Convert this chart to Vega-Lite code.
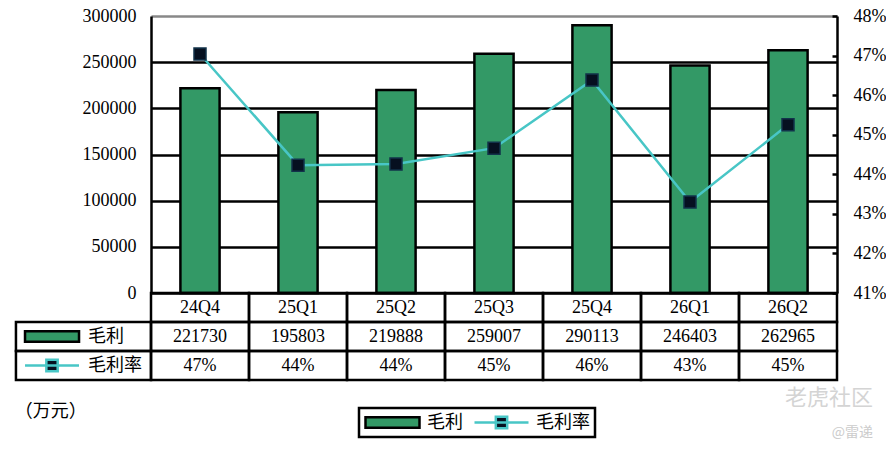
{
  "$schema": "https://vega.github.io/schema/vega-lite/v6.json",
  "description": "毛利 and 毛利率 by quarter, with data table",
  "background": "white",
  "padding": {"left": 14, "top": 7, "right": 0, "bottom": 0},
  "config": {
    "view": {"stroke": null},
    "font": "Liberation Serif",
    "legend": {
      "title": null,
      "orient": "none",
      "legendX": 208,
      "legendY": 392,
      "direction": "horizontal",
      "symbolSize": 2916,
      "symbolStrokeWidth": 2.5,
      "symbolOpacity": 1,
      "clipHeight": 19,
      "labelFont": "Noto Sans CJK SC",
      "labelFontSize": 18,
      "labelColor": "black",
      "labelOffset": 6,
      "columnPadding": 10,
      "padding": 5,
      "strokeColor": "black",
      "strokeWidth": 2.5
    }
  },
  "title": {
    "text": "老虎社区",
    "subtitle": "@雷递",
    "orient": "bottom",
    "anchor": "end",
    "offset": -50,
    "dx": -13,
    "font": "Noto Sans CJK SC",
    "fontSize": 22,
    "fontWeight": "normal",
    "color": "#d4d4d4",
    "subtitleFont": "Noto Sans CJK SC",
    "subtitleFontSize": 14,
    "subtitleColor": "#cccccc",
    "subtitlePadding": 16
  },
  "datasets": {
    "quarters": [
      {"quarter": "24Q4", "gross": 221730, "margin": 0.4704},
      {"quarter": "25Q1", "gross": 195803, "margin": 0.4423},
      {"quarter": "25Q2", "gross": 219888, "margin": 0.4426},
      {"quarter": "25Q3", "gross": 259007, "margin": 0.4466},
      {"quarter": "25Q4", "gross": 290113, "margin": 0.4638},
      {"quarter": "26Q1", "gross": 246403, "margin": 0.4330},
      {"quarter": "26Q2", "gross": 262965, "margin": 0.4525}
    ],
    "series": [
      {"name": "毛利"},
      {"name": "毛利率"}
    ]
  },
  "bounds": "flush",
  "spacing": 0,
  "vconcat": [
    {
      "width": 686,
      "height": 277,
      "data": {"name": "quarters"},
      "encoding": {
        "x": {
          "field": "quarter",
          "type": "ordinal",
          "sort": null,
          "scale": {"paddingInner": 0, "paddingOuter": 0},
          "axis": null
        }
      },
      "layer": [
        {
          "mark": {"type": "bar", "width": {"band": 0.4}, "fill": "#339966", "stroke": "black", "strokeWidth": 2.5},
          "encoding": {
            "y": {
              "field": "gross",
              "type": "quantitative",
              "scale": {"domain": [0, 300000], "nice": false},
              "axis": {
                "title": null,
                "values": [0, 50000, 100000, 150000, 200000, 250000, 300000],
                "format": "d",
                "ticks": false,
                "labelFont": "Liberation Serif",
                "labelFontSize": 18,
                "labelColor": "black",
                "labelPadding": 15,
                "domainColor": "black",
                "domainWidth": 2.5,
                "grid": true,
                "gridColor": {"condition": {"test": "datum.value === 300000", "value": "#888888"}, "value": "black"},
                "gridWidth": 2.5
              }
            }
          }
        },
        {
          "encoding": {
            "y": {
              "field": "margin",
              "type": "quantitative",
              "scale": {"domain": [0.41, 0.48], "nice": false, "zero": false},
              "axis": {
                "orient": "right",
                "title": null,
                "values": [0.41, 0.42, 0.43, 0.44, 0.45, 0.46, 0.47, 0.48],
                "format": ".0%",
                "grid": false,
                "tickSize": -5,
                "tickColor": "black",
                "tickWidth": 2.5,
                "labelFont": "Liberation Serif",
                "labelFontSize": 18,
                "labelColor": "black",
                "labelPadding": 21,
                "domainColor": "black",
                "domainWidth": 2.5
              }
            }
          },
          "layer": [
            {"mark": {"type": "line", "color": "#48c6c6", "strokeWidth": 2.5}},
            {"mark": {"type": "point", "shape": "square", "filled": true, "size": 144, "fill": "#061020", "stroke": "#12324a", "strokeWidth": 1.5, "opacity": 1}}
          ]
        }
      ],
      "resolve": {"scale": {"y": "independent"}}
    },
    {
      "width": 686,
      "height": 87,
      "title": {
        "text": "（万元）",
        "orient": "bottom",
        "anchor": "start",
        "offset": 22,
        "font": "Noto Sans CJK SC",
        "fontSize": 18,
        "fontWeight": "normal",
        "color": "black"
      },
      "encoding": {
        "x": {"type": "quantitative", "scale": {"domain": [0, 7], "nice": false, "zero": false}, "axis": null},
        "y": {"type": "quantitative", "scale": {"domain": [0, 3], "nice": false, "reverse": true}, "axis": null}
      },
      "layer": [
        {
          "data": {"name": "quarters"},
          "transform": [
            {"window": [{"op": "row_number", "as": "idx"}]},
            {"calculate": "datum.quarter", "as": "t0"},
            {"calculate": "format(datum.gross, 'd')", "as": "t1"},
            {"calculate": "format(datum.margin, '.0%')", "as": "t2"},
            {"fold": ["t0", "t1", "t2"], "as": ["row", "label"]},
            {"calculate": "indexof(['t0', 't1', 't2'], datum.row)", "as": "r"},
            {"calculate": "datum.r + 1", "as": "r1"},
            {"calculate": "datum.r + 0.5", "as": "rm"},
            {"calculate": "datum.idx - 1", "as": "c0"},
            {"calculate": "datum.idx - 0.5", "as": "cm"}
          ],
          "layer": [
            {
              "mark": {"type": "rect", "fill": "transparent", "stroke": "black", "strokeWidth": 2.5},
              "encoding": {
                "x": {"field": "c0", "type": "quantitative"},
                "x2": {"field": "idx"},
                "y": {"field": "r", "type": "quantitative"},
                "y2": {"field": "r1"}
              }
            },
            {
              "mark": {"type": "text", "fontSize": 18, "font": "Liberation Serif", "color": "black", "baseline": "middle"},
              "encoding": {
                "x": {"field": "cm", "type": "quantitative"},
                "y": {"field": "rm", "type": "quantitative"},
                "text": {"field": "label"}
              }
            }
          ]
        },
        {
          "data": {"name": "series"},
          "transform": [
            {"calculate": "indexof(['毛利', '毛利率'], datum.name) + 1", "as": "r"},
            {"calculate": "datum.r + 1", "as": "r1"},
            {"calculate": "datum.r + 0.5", "as": "rm"}
          ],
          "layer": [
            {
              "mark": {"type": "rect", "fill": "transparent", "stroke": "black", "strokeWidth": 2.5},
              "encoding": {
                "x": {"datum": -1.378},
                "x2": {"datum": 0},
                "y": {"field": "r", "type": "quantitative"},
                "y2": {"field": "r1"}
              }
            },
            {
              "mark": {"type": "text", "fontSize": 18, "font": "Noto Sans CJK SC", "color": "black", "align": "left", "baseline": "middle"},
              "encoding": {
                "x": {"datum": -0.643},
                "y": {"field": "rm", "type": "quantitative"},
                "text": {"field": "name"}
              }
            },
            {
              "mark": {"type": "point", "filled": true, "size": 2916, "strokeWidth": 2.5, "opacity": 1},
              "encoding": {
                "x": {"datum": -1.01},
                "y": {"field": "rm", "type": "quantitative"},
                "shape": {
                  "field": "name",
                  "type": "nominal",
                  "scale": {
                    "domain": ["毛利", "毛利率"],
                    "range": ["M-1,-0.19H1V0.19H-1Z", "M-1,0H1M-0.21,-0.21H0.21V0.21H-0.21Z"]
                  }
                },
                "fill": {
                  "field": "name",
                  "type": "nominal",
                  "scale": {"domain": ["毛利", "毛利率"], "range": ["#339966", "#061020"]}
                },
                "stroke": {
                  "field": "name",
                  "type": "nominal",
                  "scale": {"domain": ["毛利", "毛利率"], "range": ["black", "#48c6c6"]}
                }
              }
            }
          ]
        }
      ]
    }
  ]
}
